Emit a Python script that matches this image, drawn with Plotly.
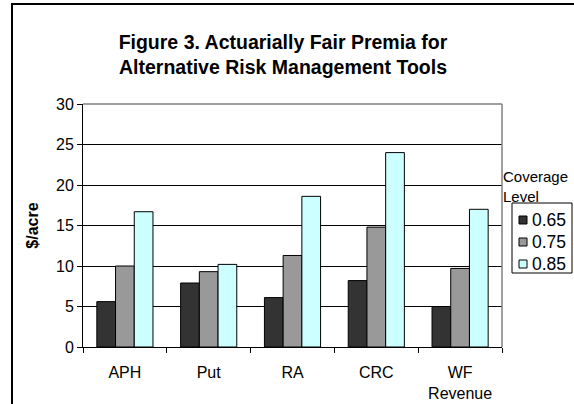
import plotly.graph_objects as go

categories = ["APH", "Put", "RA", "CRC", "WF<br>Revenue"]
levels = ["0.65", "0.75", "0.85"]
v065 = [5.6, 7.9, 6.1, 8.2, 5.0]
v075 = [10.0, 9.3, 11.3, 14.8, 9.7]
v085 = [16.7, 10.2, 18.6, 24.0, 17.0]
colors = ["#333333", "#999999", "#CCFFFF"]

fig = go.Figure()
for name, vals, c in zip(levels, [v065, v075, v085], colors):
    fig.add_trace(go.Bar(x=categories, y=vals, name=name, showlegend=False,
                         marker=dict(color=c, line=dict(color="black", width=1))))

L, R, T, B = 83, 72, 104, 57
W, H = 574, 404
pw, ph = W - L - R, H - T - B

def px(x):
    return (x - L) / pw

def py(y):
    return 1 - (y - T) / ph

fig.update_layout(
    width=W, height=H,
    margin=dict(l=L, r=R, t=T, b=B, autoexpand=False),
    paper_bgcolor="white", plot_bgcolor="white",
    font=dict(family="Arial, Liberation Sans, sans-serif", size=16, color="black"),
    barmode="group", bargap=0.33, bargroupgap=0,
    showlegend=False,
    title=dict(text="<b>Figure 3. Actuarially Fair Premia for<br>Alternative Risk Management Tools</b>",
               xref="container", yref="container",
               x=283 / W, xanchor="center", y=1 - 49 / H, yanchor="top",
               font=dict(size=19.5)),
)
fig.update_yaxes(range=[0, 30], dtick=5, showgrid=True, gridcolor="black", gridwidth=1,
                 showline=True, linecolor="black", linewidth=1, ticks="outside", ticklen=5,
                 tickcolor="black", zeroline=False, tickfont=dict(size=16),
                 title=dict(text="<b>$/acre</b>", font=dict(size=16), standoff=13))
fig.update_xaxes(showline=True, linecolor="black", linewidth=1, ticks="outside", ticklen=5,
                 tickcolor="black", tickson="boundaries", tickfont=dict(size=16),
                 ticklabelstandoff=11)

# plot area border (top / right)
fig.add_shape(type="line", xref="paper", yref="paper", x0=1, x1=1, y0=0, y1=1,
              line=dict(color="#808080", width=1.5))
fig.add_shape(type="line", xref="paper", yref="paper", x0=0, x1=1, y0=1, y1=1,
              line=dict(color="#808080", width=1.5))
# chart frame (partly outside the picture)
fig.add_shape(type="rect", xref="paper", yref="paper", x0=px(12), x1=px(700), y0=py(4), y1=py(600),
              line=dict(color="black", width=2), layer="below")

# legend
fig.add_annotation(text="Coverage<br>Level", xref="paper", yref="paper", x=px(501), y=py(166),
                   xanchor="left", yanchor="top", align="left", showarrow=False,
                   font=dict(size=15))
fig.add_shape(type="rect", xref="paper", yref="paper", x0=px(512), x1=px(572), y0=py(203), y1=py(273),
              line=dict(color="black", width=1), fillcolor="white")
legend_y = [220, 242, 264]
for name, c, yc in zip(levels, colors, legend_y):
    fig.add_shape(type="rect", xref="paper", yref="paper", x0=px(519), x1=px(527),
                  y0=py(yc - 4), y1=py(yc + 4), line=dict(color="black", width=1), fillcolor=c)
    fig.add_annotation(text=name, xref="paper", yref="paper", x=px(530), y=py(yc),
                       xanchor="left", yanchor="middle", showarrow=False, font=dict(size=17.5))

fig.write_html("out.html", config={"displayModeBar": False},
               post_script="document.body.style.margin='0';")
